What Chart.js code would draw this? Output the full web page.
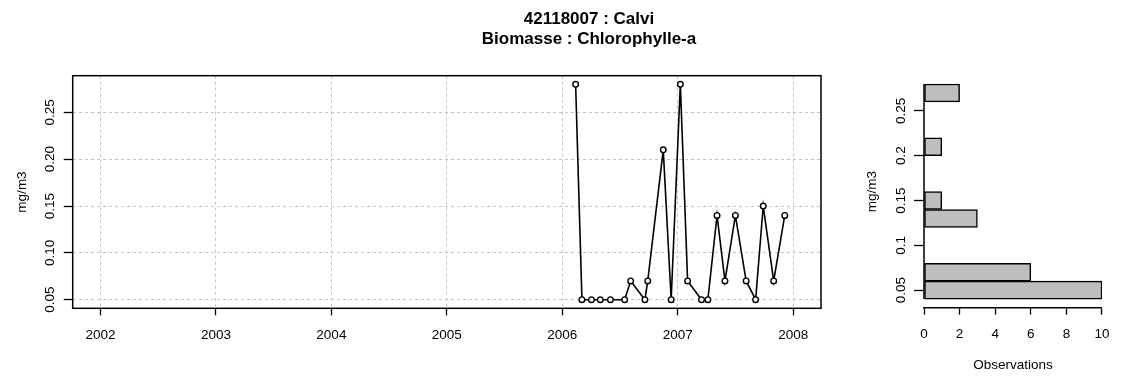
<!DOCTYPE html>
<html>
<head>
<meta charset="utf-8">
<script src="https://cdn.jsdelivr.net/npm/chart.js@4.4.0/dist/chart.umd.min.js"></script>
<style>
  html, body { margin: 0; padding: 0; background: #fff; }
  #wrap { position: relative; width: 1121px; height: 377px; overflow: hidden; font-family: "Liberation Sans", Arial, sans-serif; }
  #title { position: absolute; left: 389px; width: 400px; top: 9px; text-align: center; font-weight: bold; font-size: 17px; line-height: 20px; color: #000; }
  #mainBox { position: absolute; left: 0; top: 0; width: 850px; height: 377px; }
  #histBox { position: absolute; left: 850px; top: 0; width: 271px; height: 377px; }
</style>
</head>
<body>
<div id="wrap">
  <div id="mainBox"><canvas id="mainChart"></canvas></div>
  <div id="histBox"><canvas id="histChart"></canvas></div>
  <div id="title">42118007 : Calvi<br>Biomasse : Chlorophylle-a</div>
</div>
<script>
// sampling dates and chlorophyll-a values (mg/m3)
const sampleDates = ['2006-02-12', '2006-03-04', '2006-04-03', '2006-05-01', '2006-06-02', '2006-07-17',
  '2006-08-05', '2006-09-19', '2006-09-28', '2006-11-16', '2006-12-11', '2007-01-09', '2007-02-01',
  '2007-03-17', '2007-04-06', '2007-05-05', '2007-05-30', '2007-07-02', '2007-08-05', '2007-09-04',
  '2007-09-28', '2007-10-31', '2007-12-05'];
const chlaValues = [0.28, 0.05, 0.05, 0.05, 0.05, 0.05, 0.07, 0.05, 0.07, 0.21, 0.05, 0.28, 0.07,
  0.05, 0.05, 0.14, 0.07, 0.14, 0.07, 0.05, 0.15, 0.07, 0.14];
const yearTicks = [2002, 2003, 2004, 2005, 2006, 2007, 2008];
const valueTicks = [0.05, 0.1, 0.15, 0.2, 0.25];

// histogram of the values
const binEdges = [0.04, 0.06, 0.08, 0.10, 0.12, 0.14, 0.16, 0.18, 0.20, 0.22, 0.24, 0.26, 0.28];
const binCounts = [10, 6, 0, 0, 3, 1, 0, 0, 1, 0, 0, 2];
const countTicks = [0, 2, 4, 6, 8, 10];

function toDecimalYear(s) {
  const [y, m, d] = s.split('-').map(Number);
  const start = Date.UTC(y, 0, 1);
  const end = Date.UTC(y + 1, 0, 1);
  return y + (Date.UTC(y, m - 1, d) - start) / (end - start);
}

const axisFont = { family: "'Liberation Sans', Arial, sans-serif", size: 13.5 };
const gridColor = '#c4c4c4';

const boxPlugin = {
  id: 'box',
  afterDraw(chart) {
    const a = chart.chartArea, ctx = chart.ctx;
    ctx.save();
    ctx.strokeStyle = '#000';
    ctx.lineWidth = 1.5;
    ctx.strokeRect(a.left, a.top, a.right - a.left, a.bottom - a.top);
    ctx.restore();
  }
};

const histBase = {
  id: 'histBase',
  afterDatasetsDraw(chart) {
    const ctx = chart.ctx, xs = chart.scales.x, ys = chart.scales.y;
    const x0 = xs.getPixelForValue(0);
    ctx.save();
    ctx.strokeStyle = '#000';
    ctx.lineWidth = 1.5;
    ctx.beginPath();
    ctx.moveTo(x0, ys.getPixelForValue(binEdges[0]));
    ctx.lineTo(x0, ys.getPixelForValue(binEdges[binEdges.length - 1]));
    ctx.stroke();
    ctx.restore();
  }
};

new Chart(document.getElementById('mainChart'), {
  type: 'line',
  data: {
    datasets: [{
      data: sampleDates.map((d, i) => ({ x: toDecimalYear(d), y: chlaValues[i] })),
      borderColor: '#000',
      borderWidth: 1.6,
      pointRadius: 2.8,
      pointBorderWidth: 1.4,
      pointBackgroundColor: '#fff',
      pointBorderColor: '#000',
      tension: 0
    }]
  },
  options: {
    responsive: true,
    maintainAspectRatio: false,
    animation: false,
    layout: { padding: { top: 75.7, right: 29, left: 0, bottom: 0 } },
    plugins: { legend: { display: false }, tooltip: { enabled: false } },
    scales: {
      x: {
        type: 'linear', min: 2001.76, max: 2008.24,
        afterBuildTicks: s => { s.ticks = yearTicks.map(v => ({ value: v })); },
        afterFit: s => { s.height = 68.7; },
        ticks: { callback: v => String(v), font: axisFont, color: '#000', padding: 11.5, maxRotation: 0, autoSkip: false },
        grid: { color: gridColor, tickColor: '#000', tickLength: 7, tickWidth: 1.3, lineWidth: 1 },
        border: { display: false, dash: [3, 3] }
      },
      y: {
        type: 'linear', min: 0.0408, max: 0.2892,
        afterBuildTicks: s => { s.ticks = valueTicks.map(v => ({ value: v })); },
        afterFit: s => { s.width = 72.7; },
        ticks: { callback: v => v.toFixed(2), font: axisFont, color: '#000', minRotation: 90, maxRotation: 90, crossAlign: 'center', padding: 0.5, autoSkip: false },
        grid: { color: gridColor, tickColor: '#000', tickLength: 9, tickWidth: 1.3, lineWidth: 1 },
        border: { display: false, dash: [3, 3] },
        title: { display: true, text: 'mg/m3', font: axisFont, color: '#000', padding: { top: 14.5, bottom: 0 } }
      }
    }
  },
  plugins: [boxPlugin]
});

new Chart(document.getElementById('histChart'), {
  type: 'bar',
  data: {
    datasets: [{
      data: binCounts.map((c, i) => ({ x: c, y: (binEdges[i] + binEdges[i + 1]) / 2 })),
      backgroundColor: '#bebebe',
      borderColor: '#000',
      borderWidth: 1.5,
      borderSkipped: false,
      barPercentage: 1,
      categoryPercentage: 1
    }]
  },
  options: {
    indexAxis: 'y',
    responsive: true,
    maintainAspectRatio: false,
    animation: false,
    layout: { padding: { top: 75.4, right: 17, left: 0, bottom: 0 } },
    plugins: { legend: { display: false }, tooltip: { enabled: false } },
    scales: {
      x: {
        type: 'linear', min: 0, max: 10,
        afterBuildTicks: s => { s.ticks = countTicks.map(v => ({ value: v })); },
        afterFit: s => { s.height = 69.3; },
        ticks: { callback: v => String(v), font: axisFont, color: '#000', padding: 11.5, maxRotation: 0, autoSkip: false },
        grid: { drawOnChartArea: false, color: '#000', tickColor: '#000', tickLength: 7, tickWidth: 1.3 },
        border: { display: true, color: '#000', width: 1.5 },
        title: { display: true, text: 'Observations', font: axisFont, color: '#000', padding: { top: 0, bottom: 4 } }
      },
      y: {
        type: 'linear', min: 0.0304, max: 0.2896, offset: false,
        afterBuildTicks: s => { s.ticks = valueTicks.map(v => ({ value: v })); },
        afterFit: s => { s.width = 74; },
        ticks: { callback: v => String(v), font: axisFont, color: '#000', minRotation: 90, maxRotation: 90, crossAlign: 'center', padding: 0, autoSkip: false },
        grid: { drawOnChartArea: false, offset: false, color: '#000', tickColor: '#000', tickLength: 10, tickWidth: 1.3 },
        border: { display: false },
        title: { display: true, text: 'mg/m3', font: axisFont, color: '#000', padding: { top: 14.2, bottom: 0 } }
      }
    }
  },
  plugins: [histBase]
});
</script>
</body>
</html>
